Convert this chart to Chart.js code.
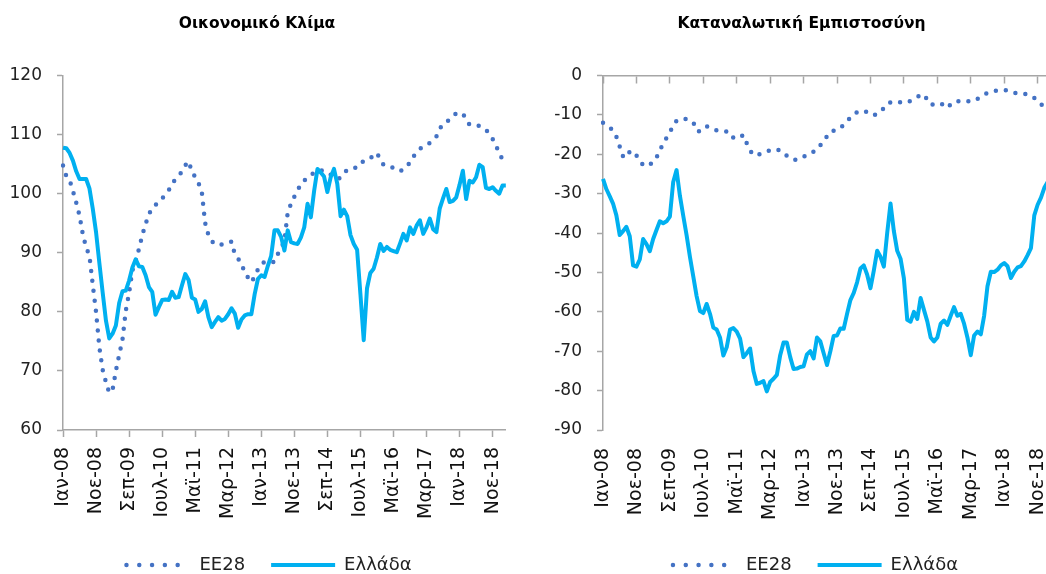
<!DOCTYPE html>
<html>
<head>
<meta charset="utf-8">
<script src="https://cdn.jsdelivr.net/npm/chart.js@4.4.1/dist/chart.umd.min.js"></script>
<style>
    html, body { margin: 0; padding: 0; background: #fff; }
    body { width: 1046px; height: 574px; overflow: hidden; position: relative; }
    #climateChart { position: absolute; left: 0; top: 0; }
    #confidenceChart { position: absolute; left: 540px; top: 0; }
</style>
</head>
<body>
<canvas id="climateChart" width="526" height="584"></canvas>
<canvas id="confidenceChart" width="540" height="584"></canvas>
<script>
const monthNames = ["Ιαν", "Φεβ", "Μαρ", "Απρ", "Μαϊ", "Ιουν", "Ιουλ", "Αυγ", "Σεπ", "Οκτ", "Νοε", "Δεκ"];
const firstYear = 2008;
const monthCount = 135;

const seriesNames = ["ΕΕ28", "Ελλάδα"];

// Οικονομικό Κλίμα
const climateEU = [
    104.8, 103.0, 102.3, 100.5, 98.5, 96.3, 93.1, 90.9, 89.5, 84.6,
    80.0, 74.0, 70.2, 68.1, 66.3, 66.8, 70.0, 72.7, 75.3, 80.2,
    83.2, 87.0, 88.6, 90.7, 93.0, 94.9, 96.5, 97.7, 98.1, 98.6,
    99.2, 99.9, 100.6, 101.6, 102.5, 103.1, 103.7, 104.8, 105.5, 103.8,
    102.8, 101.8, 100.3, 95.1, 93.0, 92.0, 91.4, 91.4, 91.4, 91.6,
    91.8, 91.9, 89.7, 89.0, 88.2, 86.6, 85.8, 85.0, 86.0, 87.2,
    88.0, 88.5, 88.5, 88.4, 88.5, 89.8, 90.8, 92.0, 96.8, 98.3,
    99.5, 100.6, 101.6, 102.2, 102.9, 103.2, 103.5, 103.8, 104.0, 103.8,
    103.5, 103.2, 102.8, 102.5, 102.7, 103.5, 104.0, 104.2, 104.4, 104.4,
    104.9, 105.6, 105.9, 106.1, 106.3, 106.9, 105.8, 104.9, 104.7, 104.5,
    104.4, 104.1, 103.8, 104.1, 104.6, 105.3, 106.3, 106.9, 107.6, 108.0,
    108.3, 108.6, 109.1, 109.7, 111.0, 111.8, 112.1, 112.6, 113.2, 113.6,
    113.6, 113.6, 112.5, 111.7, 111.6, 111.5, 111.5, 111.2, 110.8, 110.2,
    109.3, 108.2, 106.9, 105.8, null
];
const climateGreece = [
    107.8, 107.7, 106.9, 105.6, 103.8, 102.5, 102.5, 102.5, 100.9, 97.5,
    93.5, 88.3, 83.3, 78.5, 75.5, 76.3, 77.7, 81.5, 83.5, 83.6,
    85.3, 87.5, 88.9, 87.7, 87.6, 86.2, 84.2, 83.4, 79.5, 80.8,
    82.0, 82.1, 82.0, 83.4, 82.4, 82.5, 84.5, 86.4, 85.4, 82.4,
    82.1, 80.0, 80.5, 81.8, 79.1, 77.4, 78.3, 79.1, 78.5, 78.8,
    79.6, 80.6, 79.7, 77.3, 78.7, 79.4, 79.6, 79.6, 83.0, 85.6,
    86.2, 85.9, 87.8, 89.5, 93.8, 93.8, 92.7, 90.4, 93.8, 91.8,
    91.6, 91.5, 92.6, 94.3, 98.3, 96.0, 100.5, 104.2, 103.6, 102.9,
    100.3, 102.8, 104.2, 101.7, 96.2, 97.3, 96.2, 93.0, 91.5, 90.5,
    83.0, 75.2, 84.0, 86.6, 87.3, 89.2, 91.5, 90.3, 91.0, 90.5,
    90.3, 90.1, 91.6, 93.2, 92.1, 94.3, 93.2, 94.6, 95.5, 93.2,
    94.3, 95.8, 94.0, 93.5, 97.5, 99.2, 100.8, 98.6, 98.8, 99.4,
    101.5, 103.9, 99.1, 102.2, 101.9, 102.8, 104.9, 104.5, 101.0, 100.8,
    101.1, 100.5, 100.0, 101.4, 101.4
];

// Καταναλωτική Εμπιστοσύνη
const confidenceEU = [
    -12.0, -12.5, -13.2, -13.9, -15.5, -18.0, -20.5, -20.8, -19.3, -19.2,
    -20.3, -21.5, -22.8, -23.0, -22.6, -22.0, -20.8, -19.0, -17.2, -15.8,
    -14.5, -12.5, -11.5, -11.2, -10.9, -11.1, -11.4, -11.8, -14.0, -14.2,
    -13.4, -12.9, -13.2, -13.7, -13.9, -13.9, -14.0, -14.2, -14.4, -15.8,
    -16.0, -15.5, -15.1, -17.2, -19.0, -20.2, -20.1, -19.9, -19.7, -19.3,
    -18.9, -18.7, -18.8, -19.0, -19.6, -20.4, -21.1, -21.3, -21.4, -21.0,
    -20.6, -20.2, -19.8, -19.3, -18.8, -17.7, -16.6, -15.4, -14.2, -14.0,
    -13.7, -13.4, -12.4, -11.5, -10.7, -9.8, -9.3, -9.1, -8.9, -9.3,
    -9.8, -10.1, -9.6, -9.2, -8.2, -7.1, -6.8, -6.7, -6.6, -6.8,
    -6.9, -6.8, -6.4, -5.9, -5.4, -5.0, -4.8, -6.2, -7.4, -7.3,
    -7.1, -7.0, -7.6, -8.2, -7.3, -6.6, -6.5, -6.6, -6.6, -6.5,
    -6.5, -6.4, -5.9, -5.3, -4.8, -4.4, -4.1, -3.9, -3.8, -3.7,
    -3.7, -3.8, -4.1, -4.4, -4.5, -4.5, -4.6, -4.8, -5.3, -5.7,
    -6.4, -7.3, -7.9, -8.5, null
];
const confidenceGreece = [
    -26.2, -28.8, -30.6, -32.5, -35.5, -40.5, -39.5, -38.4, -40.8, -48.2,
    -48.5, -46.7, -41.5, -42.8, -44.6, -41.5, -39.2, -37.0, -37.5, -37.0,
    -35.8, -27.0, -24.0, -30.5, -35.6, -40.5, -46.0, -51.0, -56.0, -59.8,
    -60.3, -58.0, -60.5, -64.0, -64.5, -66.5, -71.1, -69.0, -64.5, -64.1,
    -65.0, -66.8, -71.5, -70.5, -69.3, -75.0, -78.3, -78.0, -77.6, -80.2,
    -77.8, -77.0, -76.0, -71.0, -67.8, -67.8, -71.5, -74.5, -74.4, -74.0,
    -73.8, -70.8, -70.0, -71.8, -66.5, -67.5, -70.5, -73.5, -70.0, -66.1,
    -66.0, -64.2, -64.3, -60.5, -57.0, -55.2, -52.5, -49.0, -48.2, -50.5,
    -54.0, -49.5, -44.5, -46.0, -48.5, -40.0, -32.5, -39.5, -44.5, -46.5,
    -51.5, -62.0, -62.5, -60.0, -61.8, -56.5, -59.5, -62.4, -66.5, -67.5,
    -66.5, -63.0, -62.2, -63.3, -61.0, -58.8, -61.0, -60.5, -63.0, -66.5,
    -71.0, -66.0, -65.0, -65.7, -61.0, -53.5, -49.8, -49.9, -49.3, -48.2,
    -47.6, -48.4, -51.4, -49.8, -48.7, -48.4, -47.2, -45.6, -43.8, -35.5,
    -32.8, -31.0, -28.5, -27.0, -26.0
];

const labels = [];
for (let k = 0; k < monthCount; k++) {
    const year = String(firstYear + Math.floor(k / 12)).slice(2);
    labels.push(monthNames[k % 12] + "-" + year);
}

const lightBlue = "#00B0F0";
const darkBlue = "#4472C4";
const axisGray = "#A6A6A6";
const fontFamily = "'DejaVu Sans', sans-serif";
const legendSample = 64;

// only every 10th month gets a tick and a label
function keepEveryTenth(scale) {
    scale.ticks = scale.ticks.filter(t => t.value % 10 === 0);
}

// legend samples use the dataset's dash and cap (6 dots for the dotted one)
function legendLabels(chart) {
    const items = Chart.defaults.plugins.legend.labels.generateLabels(chart);
    return items.map(item => {
        const ds = chart.data.datasets[item.datasetIndex];
        item.lineDash = ds.borderDash ? [0, legendSample / 5] : [];
        item.lineCap = ds.borderCapStyle || "butt";
        item.lineWidth = ds.borderWidth;
        return item;
    });
}

// nudge the legend sideways, it is not centred on the canvas in the original
const legendShift = {
    id: "legendShift",
    afterLayout(chart, args, opts) {
        if (chart.legend && opts.dx) {
            chart.legend.left += opts.dx;
            chart.legend.right += opts.dx;
        }
    }
};

function makeDatasets(euValues, grValues) {
    return [
        {
            label: seriesNames[0],
            data: euValues,
            borderColor: darkBlue,
            backgroundColor: darkBlue,
            borderWidth: 4.5,
            borderDash: [0, 10],
            borderCapStyle: "round",
            pointRadius: 0,
            order: 1
        },
        {
            label: seriesNames[1],
            data: grValues,
            borderColor: lightBlue,
            backgroundColor: lightBlue,
            borderWidth: 4,
            borderJoinStyle: "round",
            pointRadius: 0,
            order: 0
        }
    ];
}

function baseOptions(title, padLeft, padRight, legendDx) {
    return {
        responsive: false,
        animation: false,
        layout: { padding: { left: padLeft, right: padRight, top: 0, bottom: 0 } },
        plugins: {
            title: {
                display: true,
                text: title,
                color: "#000",
                font: { family: fontFamily, size: 15.5, weight: "bold" },
                padding: { top: 15, bottom: 42 }
            },
            legend: {
                position: "bottom",
                labels: {
                    usePointStyle: true,
                    pointStyle: "line",
                    pointStyleWidth: legendSample,
                    padding: 26,
                    color: "#222",
                    font: { family: fontFamily, size: 18 },
                    generateLabels: legendLabels,
                    sort: (a, b) => a.datasetIndex - b.datasetIndex
                }
            },
            legendShift: { dx: legendDx },
            tooltip: { enabled: false }
        }
    };
}

const labelTicks = {
    autoSkip: false,
    minRotation: 90,
    maxRotation: 90,
    padding: 10,
    color: "#111",
    font: { family: fontFamily, size: 19 }
};

function yScale(min, max, width) {
    return {
        min,
        max,
        ticks: { stepSize: 10, padding: 15, color: "#222", font: { family: fontFamily, size: 17 } },
        grid: { drawOnChartArea: false, tickLength: 6, tickColor: axisGray, tickWidth: 1.5 },
        border: { color: axisGray, width: 1.5 },
        afterFit: s => { s.width = width; }
    };
}

// Left panel
const climateOpts = baseOptions("Οικονομικό Κλίμα", 8, 20, 12);
climateOpts.scales = {
    x: {
        position: "bottom",
        ticks: labelTicks,
        grid: { drawOnChartArea: false, tickLength: 7, tickColor: axisGray, tickWidth: 1.5 },
        border: { color: axisGray, width: 1.5 },
        afterBuildTicks: keepEveryTenth,
        afterFit: s => { s.height = 100; }
    },
    y: yScale(60, 120, 55)
};

new Chart(document.getElementById("climateChart"), {
    type: "line",
    data: { labels, datasets: makeDatasets(climateEU, climateGreece) },
    options: climateOpts,
    plugins: [legendShift]
});

// Right panel: horizontal axis crosses at 0 (top), labels stay at the bottom
const confidenceOpts = baseOptions("Καταναλωτική Εμπιστοσύνη", 12, 29, 14);
confidenceOpts.scales = {
    x: {
        position: "bottom",
        ticks: labelTicks,
        grid: { display: false },
        border: { display: false },
        afterBuildTicks: keepEveryTenth,
        afterFit: s => { s.height = 100; }
    },
    xTop: {
        type: "category",
        axis: "x",
        position: { y: 0 },
        ticks: { display: false },
        grid: { drawOnChartArea: false, tickLength: 7, tickColor: axisGray, tickWidth: 1.5 },
        border: { color: axisGray, width: 1.5 },
        afterBuildTicks: keepEveryTenth
    },
    y: yScale(-90, 0, 51)
};

new Chart(document.getElementById("confidenceChart"), {
    type: "line",
    data: { labels, datasets: makeDatasets(confidenceEU, confidenceGreece) },
    options: confidenceOpts,
    plugins: [legendShift]
});
</script>
</body>
</html>
